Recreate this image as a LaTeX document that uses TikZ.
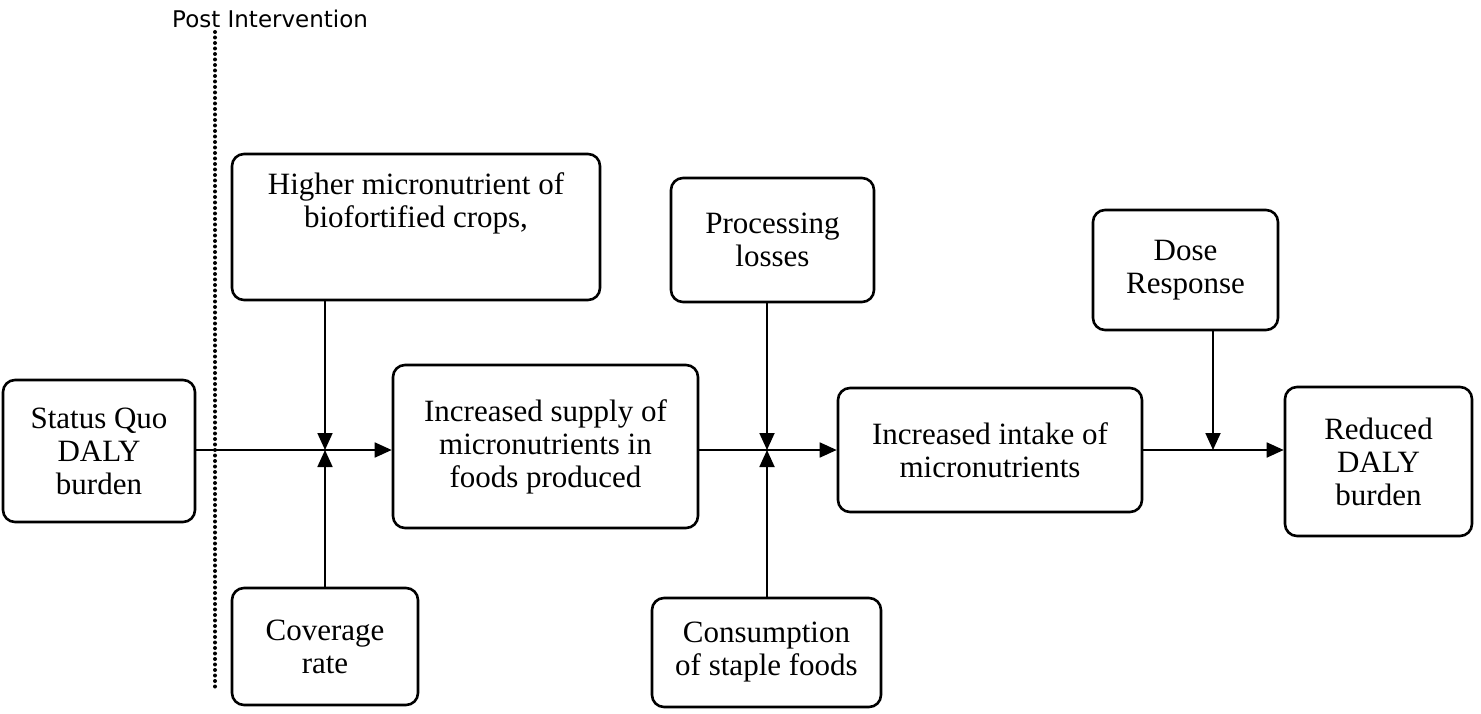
\documentclass[tikz,border=0pt]{standalone}
\usepackage{fontspec}
\setmainfont{Liberation Serif}
\newfontfamily\postfont{DejaVu Sans}
\usetikzlibrary{arrows.meta}
\begin{document}
\begin{tikzpicture}[x=1pt,y=-1pt,
  box/.style={draw, line width=2.6pt, rounded corners=12pt, align=center, inner sep=0pt,
              font=\fontsize{31}{33}\selectfont},
  conn/.style={line width=1.8pt},
  arr/.style={conn, -{Triangle[length=17pt,width=15pt]}},
  dotline/.style={line width=4pt, dash pattern=on 0pt off 5.5pt, line cap=round},
  postlabel/.style={anchor=base west, inner sep=0pt, font=\postfont\fontsize{23}{25}\selectfont}
]
\useasboundingbox (0,0) rectangle (1481,714);

% boxes
\node[box, minimum width=192pt, minimum height=142pt] (SQ) at (99,451) {Status Quo\\DALY\\burden};
\node[box, minimum width=368pt, minimum height=146pt] (HM) at (416,227) {Higher micronutrient of\\biofortified crops,\\[20pt]~};
\node[box, minimum width=186pt, minimum height=117pt] (CR) at (325,646.5) {Coverage\\rate};
\node[box, minimum width=305pt, minimum height=163pt] (IS) at (545.5,446.5) {Increased supply of\\micronutrients in\\foods produced};
\node[box, minimum width=203pt, minimum height=124pt] (PL) at (772.5,240) {Processing\\losses};
\node[box, minimum width=229pt, minimum height=109pt] (CS) at (766.5,652.5) {Consumption\\of staple foods};
\node[box, minimum width=304pt, minimum height=124pt] (II) at (990,450) {Increased intake of\\micronutrients};
\node[box, minimum width=185pt, minimum height=120pt] (DR) at (1185.5,270) {Dose\\Response};
\node[box, minimum width=187pt, minimum height=149pt] (RD) at (1378.5,461.5) {Reduced\\DALY\\burden};

% junctions
\coordinate (J1) at (325,450);
\coordinate (J2) at (767,450);
\coordinate (J3) at (1213,450);

% connectors
\draw[conn] (SQ.east |- J1) -- (J1);
\draw[arr] (J1) -- (IS.west |- J1);
\draw[arr] (HM.south -| J1) -- (J1);
\draw[arr] (CR.north -| J1) -- (J1);

\draw[conn] (IS.east |- J2) -- (J2);
\draw[arr] (J2) -- (II.west |- J2);
\draw[arr] (PL.south -| J2) -- (J2);
\draw[arr] (CS.north -| J2) -- (J2);

\draw[conn] (II.east |- J3) -- (J3);
\draw[arr] (J3) -- (RD.west |- J3);
\draw[arr] (DR.south -| J3) -- (J3);

% post intervention marker
\coordinate (DT) at (215,32);
\coordinate (DB) at (215,688);
\draw[dotline] (DT) -- (DB);
\node[postlabel] (PI) at (172,28) {Post Intervention};
\end{tikzpicture}
\end{document}
